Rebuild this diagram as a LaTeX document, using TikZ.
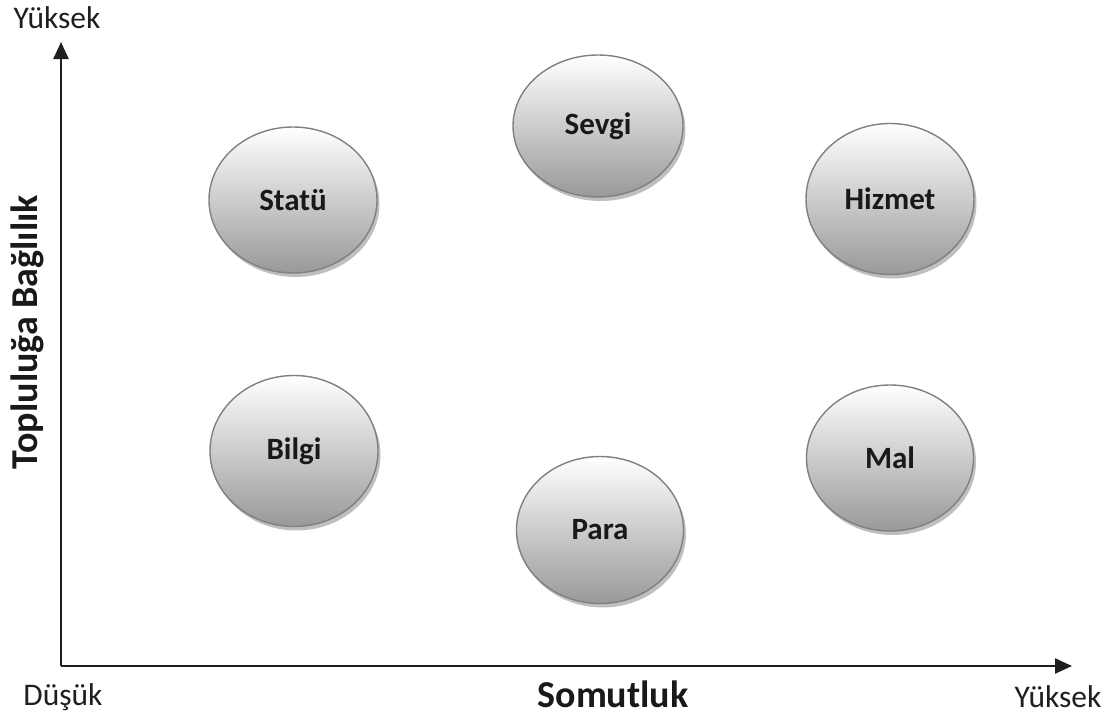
\documentclass[tikz,border=0pt]{standalone}
\usepackage{fontspec}
\setmainfont{Carlito}
\usetikzlibrary{arrows.meta,shapes.geometric,shadows}
\begin{document}
\begin{tikzpicture}[x=1pt,y=-1pt,
  bubble/.style={ellipse,minimum width=168pt,minimum height=148pt,inner sep=0pt,
    draw=black!50,line width=1.4pt,top color=white,middle color=black!10,bottom color=black!40,
    drop shadow={shadow xshift=2.5pt,shadow yshift=-4pt,fill=black!25,opacity=1},
    font=\bfseries\fontsize{31}{36}\selectfont,text=black!90},
  axis/.style={line width=2.4pt,draw=black!88,-{Triangle[length=17pt,width=15pt]}},
  endlabel/.style={font=\fontsize{31.5}{36}\selectfont,text=black!88},
  axlabel/.style={font=\bfseries\fontsize{38}{44}\selectfont,text=black!90}]
\useasboundingbox (0,0) rectangle (1114,718);
\coordinate (O) at (61,666);
\coordinate (Ytop) at (61,42);
\coordinate (Xend) at (1072,666);
\draw[axis] (O) -- (Ytop);
\draw[axis] (O) -- (Xend);
\node[endlabel] (yhigh) at (57,18) {Yüksek};
\node[endlabel] (xlow) at (63,697) {Düşük};
\node[endlabel] (xhigh) at (1058,697) {Yüksek};
\node[axlabel] (xlab) at (613,694) {Somutluk};
\node[axlabel,rotate=90] (ylab) at (27,332) {Topluluğa Bağlılık};
\node[bubble,minimum height=146pt] (statu) at (293,200) {Statü};
\node[bubble,minimum width=170pt,minimum height=142pt] (sevgi) at (598,126) {Sevgi};
\node[bubble,minimum height=151pt] (hizmet) at (890,199) {Hizmet};
\node[bubble,minimum height=151pt] (bilgi) at (294,451) {Bilgi};
\node[bubble,minimum width=167pt,minimum height=147pt] (para) at (600,530) {Para};
\node[bubble,minimum width=167pt,minimum height=146pt] (mal) at (890,458) {Mal};
\end{tikzpicture}
\end{document}
